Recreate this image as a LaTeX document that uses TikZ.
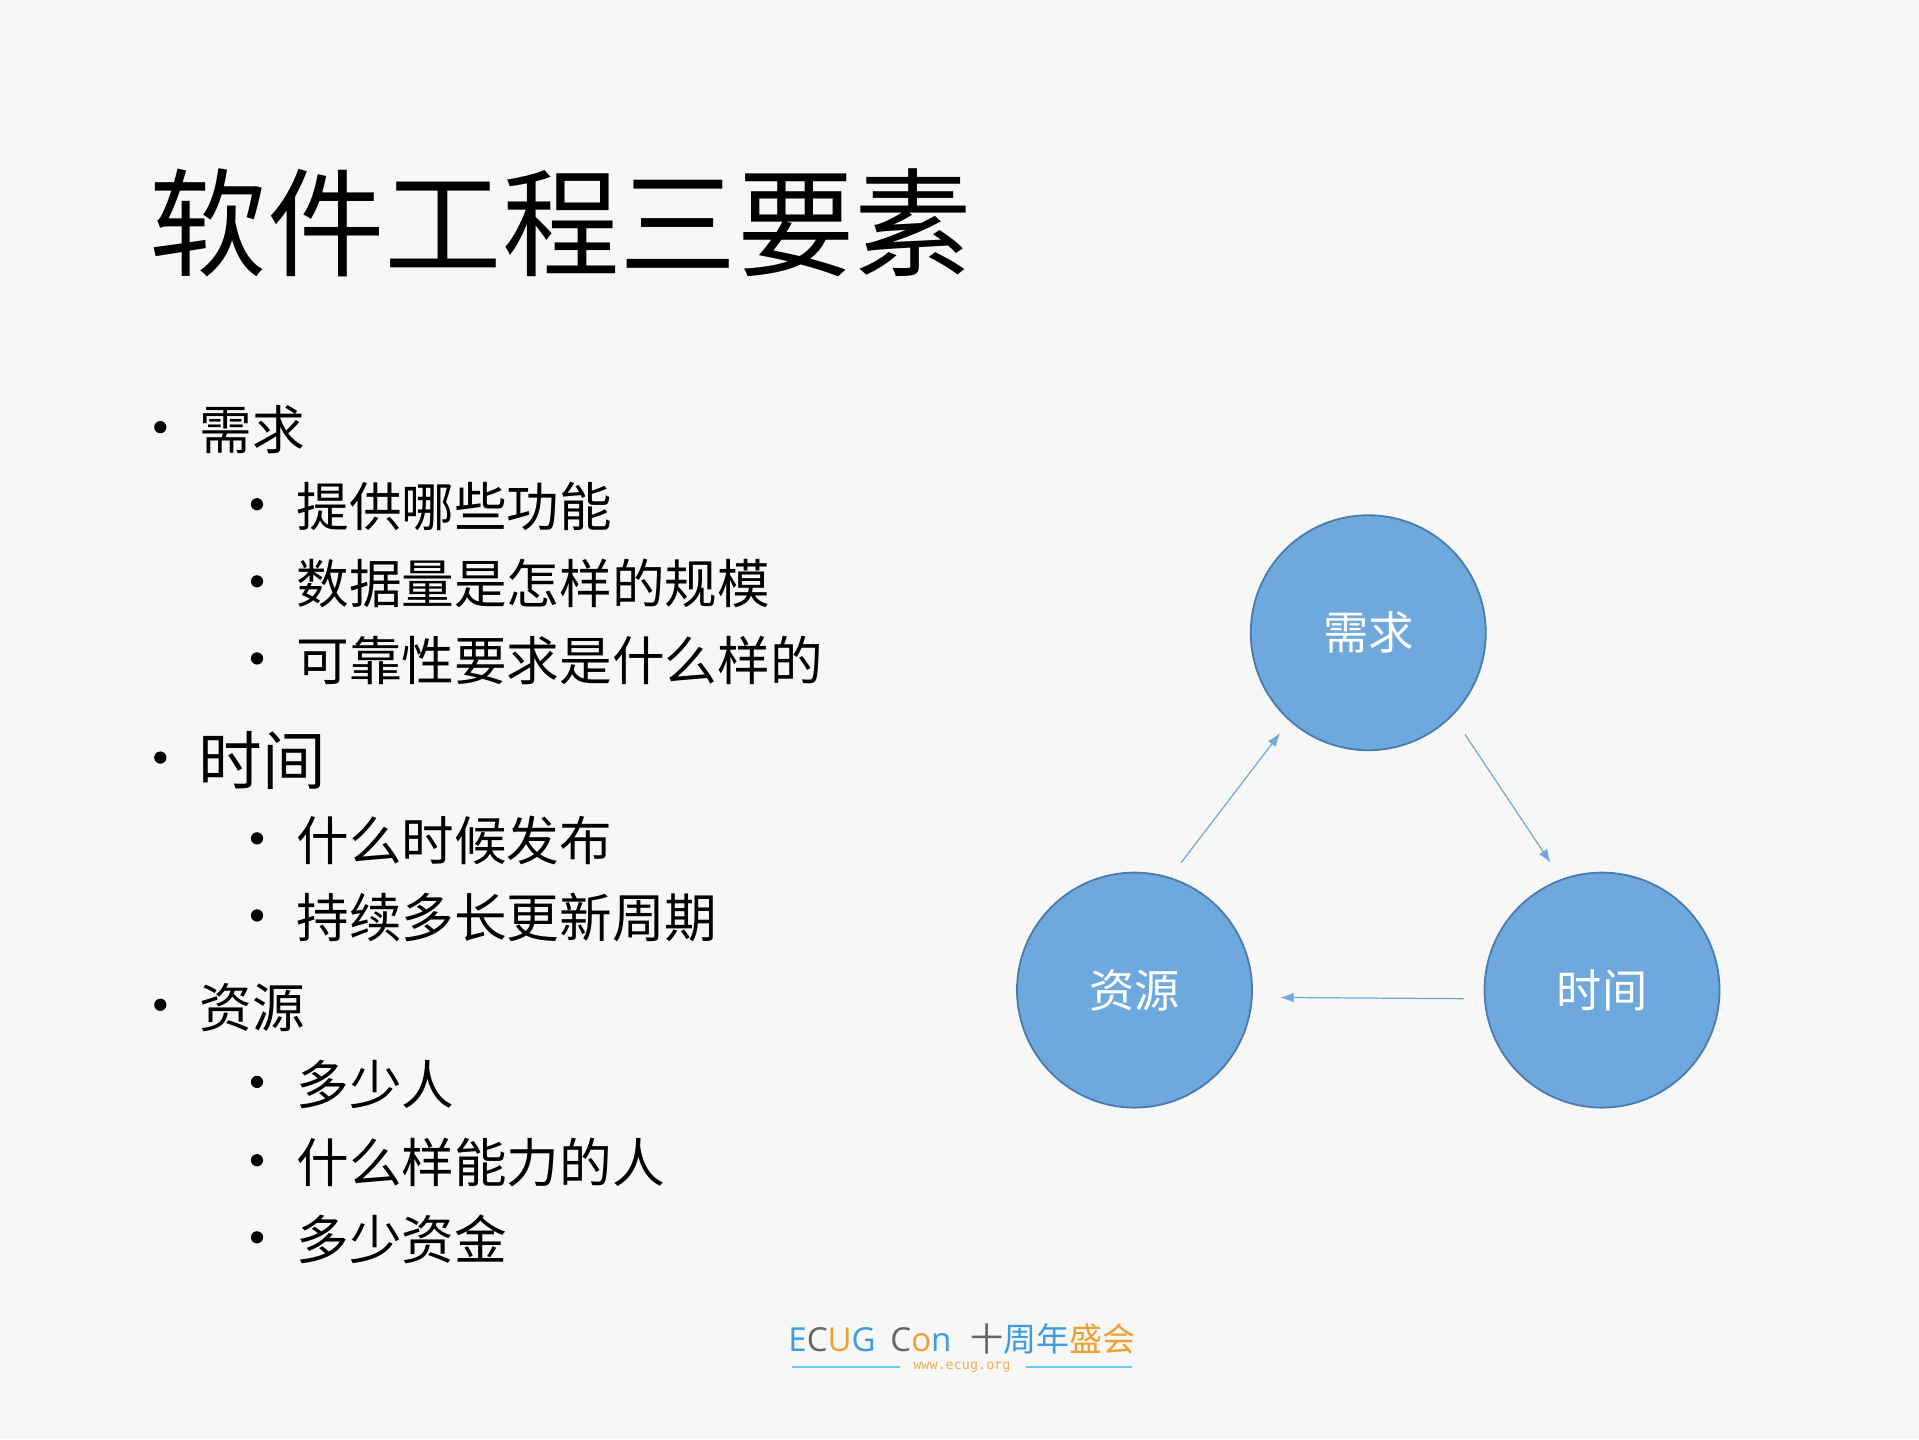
\documentclass[tikz,border=0pt]{standalone}
\usepackage{fontspec}
\usetikzlibrary{arrows.meta}
\setmainfont{Noto Sans CJK SC}
\newfontfamily\lat{Open Sans}
\newfontfamily\mono{DejaVu Sans Mono}
\definecolor{bg}{HTML}{F7F7F7}
\definecolor{cfill}{HTML}{6FA8DC}
\definecolor{cedge}{HTML}{4A7DAE}
\definecolor{arr}{HTML}{6FA8DC}
\definecolor{lb}{HTML}{3D9BE0}
\definecolor{lo}{HTML}{F0A030}
\definecolor{lg}{HTML}{666666}
\definecolor{ll}{HTML}{6CC8F8}
\begin{document}
\begin{tikzpicture}[x=1pt,y=-1pt,
  circ/.style={circle,draw=cedge,line width=1.5pt,fill=cfill,minimum size=192pt,inner sep=0pt,text=white,font=\fontsize{37}{40}\selectfont},
  conn/.style={draw=arr,line width=1pt,-{Latex[length=11pt,width=8pt]}},
  lone/.style={anchor=west,inner sep=0pt,font=\fontsize{43}{46}\selectfont},
  ltwo/.style={anchor=west,inner sep=0pt,font=\fontsize{43}{46}\selectfont},
  dot/.style={circle,fill=black,inner sep=0pt,minimum size=10pt}]
\fill[bg] (0,0) rectangle (1568,1176);
\useasboundingbox (0,0) rectangle (1568,1176);
\node[anchor=west,inner sep=0pt,font=\fontsize{96}{100}\selectfont] (title) at (122,182) {软件工程三要素};
% bullets
\foreach \y/\t/\n in {351/需求/a,823/资源/c}{
  \node[dot] (d\n) at (131,\y-2) {};
  \node[lone] (t\n) at (163,\y) {\t};}
\node[dot] (db) at (131,619) {};
\node[lone,font=\fontsize{52}{56}\selectfont] (tb) at (162,621) {时间};
\foreach \y/\t/\n in {414/提供哪些功能/1,477/数据量是怎样的规模/2,540/可靠性要求是什么样的/3,687/什么时候发布/4,750/持续多长更新周期/5,886/多少人/6,950/什么样能力的人/7,1013/多少资金/8}{
  \node[dot] (e\n) at (210,\y-2) {};
  \node[ltwo] (s\n) at (242,\y) {\t};}
% circles
\node[circ] (xq) at (1118,517) {需求};
\node[circ] (zy) at (927,809) {资源};
\node[circ] (sj) at (1309,809) {时间};
\coordinate (a1) at (965,705); \coordinate (a2) at (1046,599);
\coordinate (b1) at (1197,600); \coordinate (b2) at (1267,705);
\coordinate (c1) at (1196,816); \coordinate (c2) at (1046,815);
\draw[conn] (a1) -- (a2);
\draw[conn] (b1) -- (b2);
\draw[conn] (c1) -- (c2);
% logo
\node[anchor=west,inner sep=0pt,font=\lat\fontsize{27}{30}\selectfont] (logo) at (644,1095)
 {\textcolor{lb}{E}\textcolor{lg}{C}\textcolor{lo}{U}\textcolor{lb}{G}\hspace{12pt}\textcolor{lg}{C}\textcolor{lo}{o}\textcolor{lb}{n}};
\node[anchor=west,inner sep=0pt,font=\fontsize{27}{30}\selectfont] (logo2) at (793,1094)
 {\textcolor{lg}{十}\textcolor{lb}{周年}\textcolor{lo}{盛会}};
\node[inner sep=0pt,text=lo!85,font=\mono\fontsize{11}{12}\selectfont] (www) at (786,1117) {www.ecug.org};
\draw[ll,line width=1.5pt] (647,1117) -- (735,1117);
\draw[ll,line width=1.5pt] (838,1117) -- (925,1117);
\end{tikzpicture}
\end{document}
